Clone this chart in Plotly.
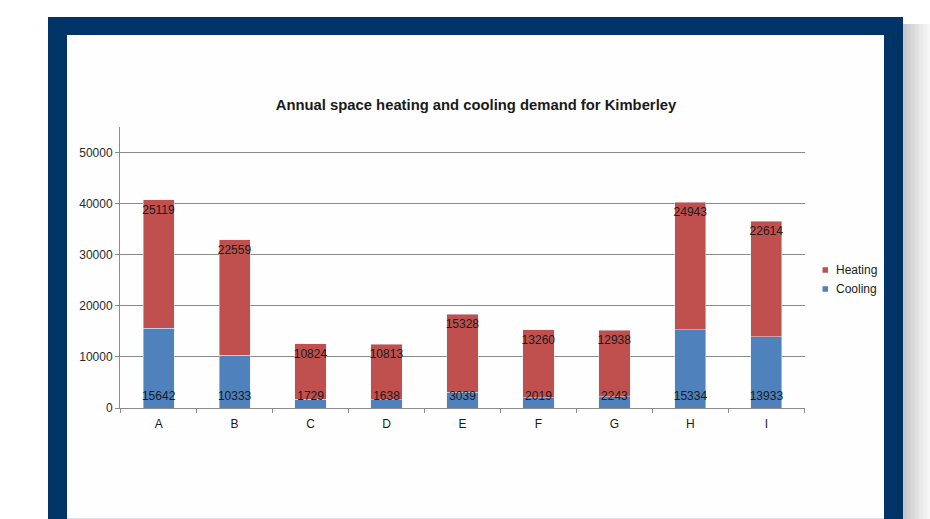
import plotly.graph_objects as go

# Annual space heating and cooling demand per building option
categories = ["A", "B", "C", "D", "E", "F", "G", "H", "I"]
cooling = [15642, 10333, 1729, 1638, 3039, 2019, 2243, 15334, 13933]
heating = [25119, 22559, 10824, 10813, 15328, 13260, 12938, 24943, 22614]
y_ticks = [0, 10000, 20000, 30000, 40000, 50000]
series_legend = [("Heating", "#C0504D"), ("Cooling", "#4F81BD")]

W, H = 930, 519
L, R, T, B = 120, 125, 127, 111
PW, PH = W - L - R, H - T - B

def px_x(px):
    return (px - L) / PW

def px_y(py):
    return (H - B - py) / PH

BLUE = "#4F81BD"
RED = "#C0504D"
NAVY = "#003366"
FONT = "Liberation Sans, Arial, sans-serif"
TXT = "#1a1a1a"

fig = go.Figure()
fig.add_trace(go.Bar(
    x=categories, y=cooling, name="Cooling", marker_color=BLUE,
    showlegend=False, hoverinfo="x+y+name",
))
fig.add_trace(go.Bar(
    x=categories, y=heating, name="Heating", marker_color=RED,
    text=[str(v) for v in heating], textposition="inside",
    insidetextanchor="end", textangle=0, constraintext="none",
    textfont=dict(color=TXT, size=12, family=FONT),
    showlegend=False,
))
# cooling value labels sit at the base of each column, above both segments
fig.add_trace(go.Scatter(
    x=categories, y=[0] * len(cooling), mode="markers+text",
    marker=dict(size=7, opacity=0),
    text=[str(v) for v in cooling], textposition="top center",
    textfont=dict(color=TXT, size=12, family=FONT),
    showlegend=False, hoverinfo="skip", cliponaxis=False,
))

shapes = []
# soft shadow to the right of the frame
shadow = ["#c9c9c9", "#d1d1d1", "#d9d9d9", "#e1e1e1", "#e9e9e9", "#f0f0f0", "#f7f7f7"]
x0 = 903
for i, c in enumerate(shadow):
    shapes.append(dict(type="rect", xref="paper", yref="paper", layer="below",
                       x0=px_x(x0 + i * 4), x1=px_x(x0 + (i + 1) * 4),
                       y0=px_y(24), y1=px_y(H + 10), line_width=0, fillcolor=c))
# navy frame
shapes.append(dict(type="rect", xref="paper", yref="paper", layer="below",
                   x0=px_x(48), x1=px_x(903), y0=px_y(17), y1=px_y(H + 10),
                   line_width=0, fillcolor=NAVY))
# white panel inside the frame
shapes.append(dict(type="rect", xref="paper", yref="paper", layer="below",
                   x0=px_x(67), x1=px_x(884), y0=px_y(35), y1=px_y(518),
                   line_width=0, fillcolor="#fefefe"))
shapes.append(dict(type="line", xref="paper", yref="paper", layer="below",
                   x0=px_x(67), x1=px_x(884), y0=px_y(518.5), y1=px_y(518.5),
                   line=dict(color="#dbe3ea", width=1)))

# compact legend: small square key followed by the series name
annotations = []
for i, (name, col) in enumerate(series_legend):
    yy = px_y(270 + i * 19)
    shapes.append(dict(type="rect", xref="paper", yref="paper",
                       x0=px_x(822.5), x1=px_x(828), y0=yy - 2.75 / PH, y1=yy + 2.75 / PH,
                       line_width=0, fillcolor=col))
    annotations.append(dict(text=name, xref="paper", yref="paper",
                            x=px_x(834), y=yy, xanchor="left", yanchor="middle",
                            showarrow=False, font=dict(size=12, color=TXT, family=FONT)))

fig.update_layout(
    width=W, height=H,
    margin=dict(l=L, r=R, t=T, b=B),
    paper_bgcolor="white",
    plot_bgcolor="rgba(0,0,0,0)",
    barmode="stack",
    bargap=0.59,
    shapes=shapes,
    annotations=annotations,
    showlegend=False,
    font=dict(family=FONT, size=12, color=TXT),
    title=dict(text="<b>Annual space heating and cooling demand for Kimberley</b>",
               x=476 / W, xref="container", xanchor="center",
               y=1 - 105 / H, yref="container", yanchor="middle",
               font=dict(size=14.8, color=TXT, family=FONT)),
    xaxis=dict(showgrid=False, showline=True, linecolor="#8c8c8c", linewidth=1,
               ticks="outside", tickson="boundaries", ticklen=4, tickcolor="#8c8c8c",
               ticklabelstandoff=5,
               tickfont=dict(size=12, color=TXT)),
    yaxis=dict(range=[0, 55000], tickvals=y_ticks, ticktext=[str(v) for v in y_ticks],
               showgrid=True, gridcolor="#8a8a8a", gridwidth=1,
               showline=True, linecolor="#8c8c8c", linewidth=1,
               ticks="outside", ticklen=4, tickcolor="#8c8c8c",
               zeroline=False, tickfont=dict(size=12, color="#2a2a2a")),
)

fig.write_html("out.html")
